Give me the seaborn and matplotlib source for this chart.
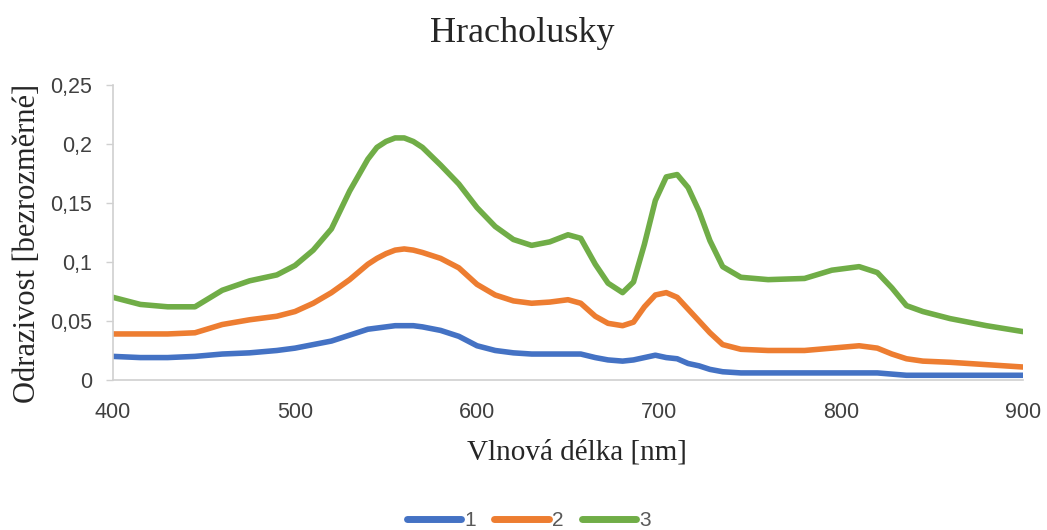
import matplotlib
matplotlib.use("Agg")
import matplotlib.pyplot as plt
import seaborn as sns
import pandas as pd
from matplotlib.ticker import FuncFormatter

wavelength = [400, 415, 430, 445, 460, 475, 490, 500, 510, 520, 530, 540, 545, 550, 555,
              560, 565, 570, 580, 590, 600, 610, 620, 630, 640, 650, 657, 665, 672, 680,
              686, 692, 698, 704, 710, 716, 722, 728, 735, 745, 760, 780, 795, 810, 820,
              828, 836, 845, 860, 880, 900]

series_1 = [0.020, 0.019, 0.019, 0.020, 0.022, 0.023, 0.025, 0.027, 0.030, 0.033, 0.038,
            0.043, 0.044, 0.045, 0.046, 0.046, 0.046, 0.045, 0.042, 0.037, 0.029, 0.025,
            0.023, 0.022, 0.022, 0.022, 0.022, 0.019, 0.017, 0.016, 0.017, 0.019, 0.021,
            0.019, 0.018, 0.014, 0.012, 0.009, 0.007, 0.006, 0.006, 0.006, 0.006, 0.006,
            0.006, 0.005, 0.004, 0.004, 0.004, 0.004, 0.004]

series_2 = [0.039, 0.039, 0.039, 0.040, 0.047, 0.051, 0.054, 0.058, 0.065, 0.074, 0.085,
            0.098, 0.103, 0.107, 0.110, 0.111, 0.110, 0.108, 0.103, 0.095, 0.081, 0.072,
            0.067, 0.065, 0.066, 0.068, 0.065, 0.054, 0.048, 0.046, 0.049, 0.062, 0.072,
            0.074, 0.070, 0.060, 0.050, 0.040, 0.030, 0.026, 0.025, 0.025, 0.027, 0.029,
            0.027, 0.022, 0.018, 0.016, 0.015, 0.013, 0.011]

series_3 = [0.070, 0.064, 0.062, 0.062, 0.076, 0.084, 0.089, 0.097, 0.110, 0.128, 0.160,
            0.187, 0.197, 0.202, 0.205, 0.205, 0.202, 0.197, 0.182, 0.166, 0.146, 0.130,
            0.119, 0.114, 0.117, 0.123, 0.120, 0.098, 0.082, 0.074, 0.083, 0.115, 0.152,
            0.172, 0.174, 0.163, 0.143, 0.118, 0.096, 0.087, 0.085, 0.086, 0.093, 0.096,
            0.091, 0.078, 0.063, 0.058, 0.052, 0.046, 0.041]

series_names = ["1", "2", "3"]
colors = ["#4472C4", "#ED7D31", "#70AD47"]
x_ticks = [400, 500, 600, 700, 800, 900]
y_ticks = [0, 0.05, 0.1, 0.15, 0.2, 0.25]

rows = []
for name, vals in zip(series_names, [series_1, series_2, series_3]):
    for w, v in zip(wavelength, vals):
        rows.append({"wl": w, "val": v, "serie": name})
df = pd.DataFrame(rows)

sns.set_style("white")
plt.rcParams["font.family"] = ["Liberation Serif", "DejaVu Serif"]

fig = plt.figure(figsize=(10.47, 5.30), dpi=100)
ax = fig.add_axes([0.108, 0.283, 0.869, 0.557])

sns.lineplot(data=df, x="wl", y="val", hue="serie", palette=colors,
             linewidth=4.0, ax=ax, legend=True)
for line in ax.get_lines():
    line.set_solid_capstyle("round")
    line.set_solid_joinstyle("round")

ax.set_xlim(400, 900)
ax.set_ylim(0, 0.25)
ax.set_xticks(x_ticks)
ax.set_yticks(y_ticks)
fmt = FuncFormatter(lambda v, p: ("%g" % round(v, 2)).replace(".", ","))
ax.yaxis.set_major_formatter(fmt)
for lab in ax.get_xticklabels() + ax.get_yticklabels():
    lab.set_family("Liberation Sans")
ax.tick_params(axis="both", labelsize=15.5, labelcolor="#404040")
ax.tick_params(axis="y", length=5, width=1, color="#D0D0D0", direction="out",
               left=True, pad=10)
ax.tick_params(axis="x", length=0, pad=16)

for s in ["top", "right"]:
    ax.spines[s].set_visible(False)
for s in ["left", "bottom"]:
    ax.spines[s].set_color("#D0D0D0")
    ax.spines[s].set_linewidth(1.2)

ax.set_xlabel("Vlnová délka [nm]", fontsize=21)
ax.set_ylabel("Odrazivost [bezrozměrné]", fontsize=22)
ax.xaxis.set_label_coords(0.51, -0.2)
ax.yaxis.set_label_coords(-0.078, 0.464)
fig.text(0.499, 0.937, "Hracholusky", ha="center", va="center", fontsize=26)

handles, labels = ax.get_legend_handles_labels()
ax.legend_.remove()
leg = fig.legend(handles, labels, loc="center", bbox_to_anchor=(0.505, 0.017),
                 ncol=3, frameon=False, handlelength=2.6, handletextpad=0.15,
                 columnspacing=0.9, prop={"family": "Liberation Sans", "size": 15})
for t in leg.get_texts():
    t.set_color("#595959")
for h in leg.get_lines():
    h.set_linewidth(5)
    h.set_solid_capstyle("round")

fig.savefig("out.png", dpi=100)
